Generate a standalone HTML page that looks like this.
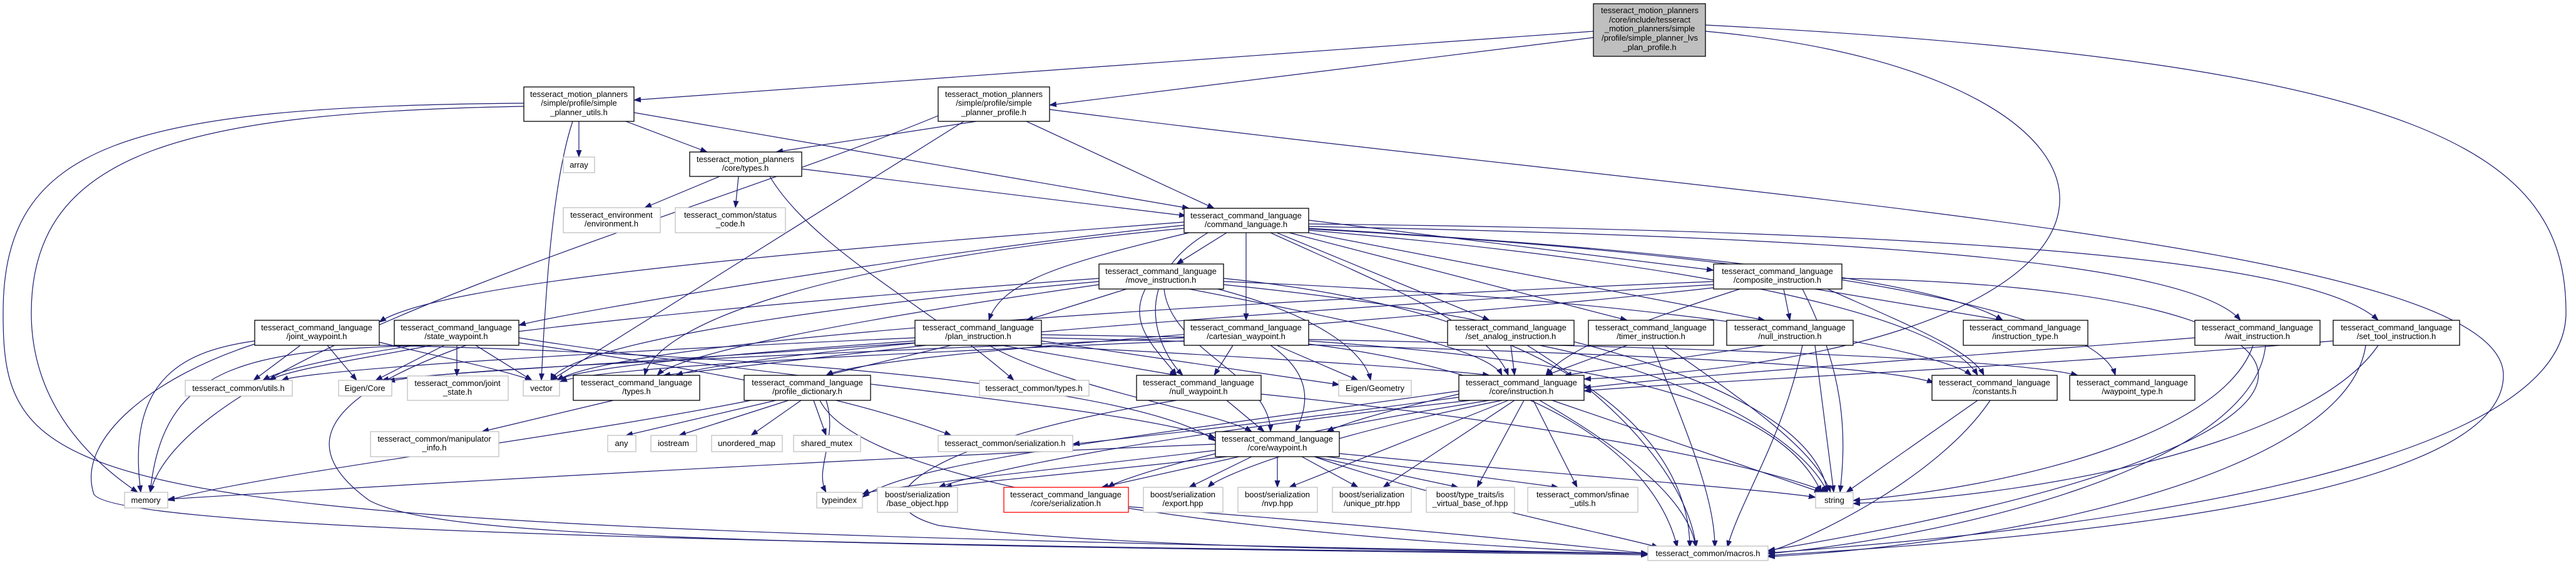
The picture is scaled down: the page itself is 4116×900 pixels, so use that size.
<!DOCTYPE html>
<html><head><meta charset="utf-8"><style>
html,body{margin:0;padding:0;background:#fff;}
svg{display:block}
text{font-family:"Liberation Sans",sans-serif;font-size:13px;fill:#000;text-anchor:middle}
.e path{fill:none;stroke:#191970;stroke-width:1.2;marker-end:url(#a)}
.n{fill:#fff;stroke:#000;stroke-width:1.3}
.g{fill:#fff;stroke:#bfbfbf;stroke-width:1.3}
.r{fill:#fff;stroke:#ff0000;stroke-width:1.3}
</style></head><body>
<svg width="4116" height="900" viewBox="0 0 4116 900" xmlns="http://www.w3.org/2000/svg">
<defs><marker id="a" markerUnits="userSpaceOnUse" markerWidth="12" markerHeight="9" refX="11" refY="4.5" orient="auto"><path d="M0,0 L12,4.5 L0,9 z" fill="#191970"/></marker></defs>
<g class="e">
<path d="M2546,50 L1013,160"/>
<path d="M2546,60 L1677,168"/>
<path d="M2725,50 C3500,120 3520,560 2531,606"/>
<path d="M2725,40 C3900,100 4100,250 4100,500 C4100,800 3000,870 2825,884"/>
<path d="M925,194 L925,251"/>
<path d="M1000,194 L1130,243"/>
<path d="M1013,180 L1900,333"/>
<path d="M915,194 C880,300 870,500 865,608"/>
<path d="M837,170 C300,180 50,240 50,500 C50,650 150,740 220,787"/>
<path d="M837,165 C200,170 5,230 5,500 C5,800 100,840 2633,885"/>
<path d="M1560,194 L1240,243"/>
<path d="M1640,194 L1940,333"/>
<path d="M1540,194 L880,608"/>
<path d="M1499,185 C1100,350 300,560 240,787"/>
<path d="M1677,175 C2800,320 4000,390 4000,600 C4000,820 3100,870 2825,888"/>
<path d="M1150,282 L1030,332"/>
<path d="M1180,282 L1175,332"/>
<path d="M1281,270 L1895,345"/>
<path d="M1230,282 C1300,400 1500,500 1620,608"/>
<path d="M1960,372 L1880,422"/>
<path d="M2091,352 L2738,432"/>
<path d="M1991,372 L1991,512"/>
<path d="M1892,355 C1300,400 700,450 606,515"/>
<path d="M1892,360 C1500,400 900,500 829,520"/>
<path d="M1900,372 C1700,420 1600,450 1580,512"/>
<path d="M1930,372 C1800,450 1850,560 1890,600"/>
<path d="M2030,372 C2200,450 2380,520 2410,600"/>
<path d="M2040,372 L2380,512"/>
<path d="M2060,372 L2600,512"/>
<path d="M2080,370 L2820,512"/>
<path d="M2091,365 C2700,400 3100,450 3200,512"/>
<path d="M2091,362 C3000,380 3500,420 3580,512"/>
<path d="M2091,358 C3200,370 3700,420 3800,512"/>
<path d="M2091,368 C2700,420 3100,500 3160,600"/>
<path d="M2091,366 C2900,410 3350,500 3380,600"/>
<path d="M1892,365 C1300,420 1050,520 1030,600"/>
<path d="M1800,462 L1640,512"/>
<path d="M1830,462 C1800,520 1850,560 1880,600"/>
<path d="M1860,462 C1870,560 2030,600 2030,690"/>
<path d="M1900,462 C2200,520 2380,560 2400,600"/>
<path d="M1930,458 C2100,500 2180,560 2190,608"/>
<path d="M1756,450 C1200,500 900,560 880,608"/>
<path d="M1756,455 C1300,520 1080,570 1050,600"/>
<path d="M1756,445 C1000,500 500,560 420,608"/>
<path d="M1955,455 C2600,520 2900,650 2920,787"/>
<path d="M1955,445 C2500,500 2700,700 2700,875"/>
<path d="M1955,450 C2700,480 3100,560 3150,600"/>
<path d="M2780,462 C2600,520 2500,560 2470,600"/>
<path d="M2900,462 L3200,512"/>
<path d="M2850,462 L2860,512"/>
<path d="M2920,462 C3050,520 3150,560 3170,600"/>
<path d="M2880,462 C2950,600 2950,700 2940,787"/>
<path d="M2943,445 C3800,460 3900,700 2825,880"/>
<path d="M2738,450 C2000,480 1000,540 890,608"/>
<path d="M2738,455 C2000,500 1200,560 1080,600"/>
<path d="M2738,460 C2200,520 1400,560 1320,600"/>
<path d="M480,552 L405,608"/>
<path d="M523,552 L570,608"/>
<path d="M606,547 C700,570 800,590 850,608"/>
<path d="M407,545 C300,560 200,600 225,787"/>
<path d="M606,552 C1000,560 1800,600 1942,705"/>
<path d="M407,550 C250,600 120,700 150,790 C180,840 1000,870 2633,885"/>
<path d="M690,552 C600,570 460,590 430,608"/>
<path d="M710,552 L600,608"/>
<path d="M730,552 L730,601"/>
<path d="M760,552 L850,608"/>
<path d="M829,540 C1200,600 1800,650 1942,700"/>
<path d="M680,552 C400,560 260,580 240,787"/>
<path d="M745,552 C500,640 480,720 590,800 C700,860 1200,870 2633,887"/>
<path d="M829,548 C1200,600 1400,650 1520,696"/>
<path d="M1520,552 L1320,600"/>
<path d="M1480,552 L1060,600"/>
<path d="M1600,552 L1880,600"/>
<path d="M1640,552 C2000,570 2300,590 2380,600"/>
<path d="M1580,552 C1700,620 1950,660 2000,690"/>
<path d="M1664,545 L2140,615"/>
<path d="M1462,545 C1100,570 920,590 890,608"/>
<path d="M1462,540 C1000,560 500,590 450,608"/>
<path d="M1462,548 C1000,580 650,600 610,608"/>
<path d="M1664,540 C2500,560 3000,580 3090,612"/>
<path d="M1664,535 C2600,550 3200,570 3320,600"/>
<path d="M1970,552 L1940,600"/>
<path d="M2030,552 C2100,600 2090,650 2070,690"/>
<path d="M2040,552 L2170,608"/>
<path d="M1892,540 C1200,570 700,590 620,610"/>
<path d="M1892,545 C1300,570 950,590 895,610"/>
<path d="M2091,545 C2600,580 2850,650 2910,787"/>
<path d="M2091,550 C2500,600 2650,750 2680,875"/>
<path d="M2414,552 L2420,600"/>
<path d="M2460,552 C2700,600 2880,700 2920,787"/>
<path d="M2440,552 C2600,650 2700,780 2710,875"/>
<path d="M2600,552 L2470,600"/>
<path d="M2660,552 C2800,650 2900,720 2925,787"/>
<path d="M2640,552 C2700,700 2740,800 2740,875"/>
<path d="M2820,552 L2500,600"/>
<path d="M2900,552 L2930,787"/>
<path d="M2880,552 C2850,700 2780,800 2760,875"/>
<path d="M3507,540 C3000,580 2700,600 2531,620"/>
<path d="M3600,552 C3550,700 3200,780 2961,800"/>
<path d="M3620,552 C3600,750 3100,860 2825,885"/>
<path d="M3728,545 C3200,590 2700,610 2531,625"/>
<path d="M3800,552 C3700,700 3300,790 2961,805"/>
<path d="M3780,552 C3750,760 3200,870 2825,890"/>
<path d="M980,640 L770,690"/>
<path d="M1240,640 L1000,696"/>
<path d="M1260,640 L1085,696"/>
<path d="M1280,640 L1200,696"/>
<path d="M1300,640 L1320,696"/>
<path d="M1320,640 C1340,700 1300,750 1320,787"/>
<path d="M1200,640 C900,700 400,760 268,800"/>
<path d="M1310,640 C1380,780 2000,860 2633,885"/>
<path d="M1960,640 L2020,690"/>
<path d="M1880,640 C1500,700 1350,800 1500,840 C1800,880 2400,880 2633,885"/>
<path d="M2015,630 C2500,680 2800,740 2920,787"/>
<path d="M2331,630 C2200,660 2140,680 2120,690"/>
<path d="M2331,625 C1800,700 1450,740 1378,795"/>
<path d="M2350,640 C1800,700 1550,760 1500,779"/>
<path d="M2380,640 C2000,700 1800,760 1770,779"/>
<path d="M2400,640 C2100,700 1950,760 1930,779"/>
<path d="M2410,640 L2060,779"/>
<path d="M2420,640 L2210,779"/>
<path d="M2435,640 L2360,779"/>
<path d="M2450,640 L2520,779"/>
<path d="M2480,640 L2910,787"/>
<path d="M2460,640 C2650,750 2700,820 2710,875"/>
<path d="M2331,635 C2000,680 1800,700 1714,710"/>
<path d="M1942,720 C1600,760 1400,780 1378,790"/>
<path d="M1960,730 C1700,760 1550,770 1510,779"/>
<path d="M1980,730 L1760,779"/>
<path d="M2000,730 L1900,779"/>
<path d="M2041,730 L2041,779"/>
<path d="M2080,730 L2170,779"/>
<path d="M2100,730 L2330,779"/>
<path d="M2120,730 L2490,779"/>
<path d="M2140,725 C2500,760 2800,780 2901,795"/>
<path d="M2100,730 C2300,800 2600,860 2650,875"/>
<path d="M1942,710 C1200,740 400,790 268,798"/>
<path d="M3160,640 L2950,787"/>
<path d="M3180,640 C3100,760 2900,860 2825,882"/>
<path d="M1803,810 C2200,840 2500,870 2633,885"/>
</g>
<!-- nodes -->
<rect x="2546" y="6" width="179" height="84" fill="#bfbfbf" stroke="#000" stroke-width="1.3"/>
<text x="2636" y="21">tesseract_motion_planners</text><text x="2636" y="36">/core/include/tesseract</text><text x="2636" y="50">_motion_planners/simple</text><text x="2636" y="65">/profile/simple_planner_lvs</text><text x="2636" y="80">_plan_profile.h</text>

<rect class="n" x="837" y="139" width="176" height="55"/><text x="925" y="155">tesseract_motion_planners</text><text x="925" y="169">/simple/profile/simple</text><text x="925" y="184">_planner_utils.h</text>
<rect class="n" x="1499" y="139" width="178" height="55"/><text x="1588" y="155">tesseract_motion_planners</text><text x="1588" y="169">/simple/profile/simple</text><text x="1588" y="184">_planner_profile.h</text>
<rect class="g" x="900" y="251" width="50" height="25"/><text x="925" y="268">array</text>
<rect class="n" x="1102" y="243" width="179" height="39"/><text x="1191" y="259">tesseract_motion_planners</text><text x="1191" y="273">/core/types.h</text>
<rect class="g" x="900" y="332" width="155" height="40"/><text x="977" y="348">tesseract_environment</text><text x="977" y="362">/environment.h</text>
<rect class="g" x="1079" y="332" width="176" height="40"/><text x="1167" y="348">tesseract_common/status</text><text x="1167" y="362">_code.h</text>
<rect class="n" x="1892" y="333" width="199" height="39"/><text x="1991" y="349">tesseract_command_language</text><text x="1991" y="363">/command_language.h</text>
<rect class="n" x="1756" y="422" width="199" height="40"/><text x="1855" y="438">tesseract_command_language</text><text x="1855" y="452">/move_instruction.h</text>
<rect class="n" x="2738" y="422" width="205" height="40"/><text x="2840" y="438">tesseract_command_language</text><text x="2840" y="452">/composite_instruction.h</text>

<rect class="n" x="407" y="512" width="199" height="40"/><text x="506" y="528">tesseract_command_language</text><text x="506" y="542">/joint_waypoint.h</text>
<rect class="n" x="630" y="512" width="199" height="40"/><text x="729" y="528">tesseract_command_language</text><text x="729" y="542">/state_waypoint.h</text>
<rect class="n" x="1462" y="512" width="202" height="40"/><text x="1563" y="528">tesseract_command_language</text><text x="1563" y="542">/plan_instruction.h</text>
<rect class="n" x="1892" y="512" width="199" height="40"/><text x="1991" y="528">tesseract_command_language</text><text x="1991" y="542">/cartesian_waypoint.h</text>
<rect class="n" x="2313" y="512" width="202" height="40"/><text x="2414" y="528">tesseract_command_language</text><text x="2414" y="542">/set_analog_instruction.h</text>
<rect class="n" x="2538" y="512" width="200" height="40"/><text x="2638" y="528">tesseract_command_language</text><text x="2638" y="542">/timer_instruction.h</text>
<rect class="n" x="2759" y="512" width="202" height="40"/><text x="2860" y="528">tesseract_command_language</text><text x="2860" y="542">/null_instruction.h</text>
<rect class="n" x="3137" y="512" width="199" height="40"/><text x="3236" y="528">tesseract_command_language</text><text x="3236" y="542">/instruction_type.h</text>
<rect class="n" x="3507" y="512" width="200" height="40"/><text x="3607" y="528">tesseract_command_language</text><text x="3607" y="542">/wait_instruction.h</text>
<rect class="n" x="3728" y="512" width="202" height="40"/><text x="3829" y="528">tesseract_command_language</text><text x="3829" y="542">/set_tool_instruction.h</text>

<rect class="g" x="296" y="608" width="171" height="25"/><text x="381" y="625">tesseract_common/utils.h</text>
<rect class="g" x="541" y="608" width="85" height="25"/><text x="583" y="625">Eigen/Core</text>
<rect class="g" x="651" y="601" width="161" height="39"/><text x="731" y="617">tesseract_common/joint</text><text x="731" y="631">_state.h</text>
<rect class="g" x="836" y="608" width="58" height="25"/><text x="865" y="625">vector</text>
<rect class="n" x="916" y="600" width="202" height="40"/><text x="1017" y="616">tesseract_command_language</text><text x="1017" y="630">/types.h</text>
<rect class="n" x="1189" y="600" width="202" height="40"/><text x="1290" y="616">tesseract_command_language</text><text x="1290" y="630">/profile_dictionary.h</text>
<rect class="g" x="1565" y="608" width="175" height="25"/><text x="1652" y="625">tesseract_common/types.h</text>
<rect class="n" x="1816" y="600" width="199" height="40"/><text x="1915" y="616">tesseract_command_language</text><text x="1915" y="630">/null_waypoint.h</text>
<rect class="g" x="2139" y="608" width="116" height="25"/><text x="2197" y="625">Eigen/Geometry</text>
<rect class="n" x="2331" y="600" width="200" height="40"/><text x="2431" y="616">tesseract_command_language</text><text x="2431" y="630">/core/instruction.h</text>
<rect class="n" x="3087" y="600" width="200" height="40"/><text x="3187" y="616">tesseract_command_language</text><text x="3187" y="630">/constants.h</text>
<rect class="n" x="3307" y="600" width="200" height="40"/><text x="3407" y="616">tesseract_command_language</text><text x="3407" y="630">/waypoint_type.h</text>

<rect class="g" x="592" y="690" width="205" height="40"/><text x="694" y="706">tesseract_common/manipulator</text><text x="694" y="720">_info.h</text>
<rect class="g" x="971" y="696" width="45" height="26"/><text x="993" y="713">any</text>
<rect class="g" x="1040" y="696" width="73" height="26"/><text x="1076" y="713">iostream</text>
<rect class="g" x="1137" y="696" width="113" height="26"/><text x="1193" y="713">unordered_map</text>
<rect class="g" x="1268" y="696" width="107" height="26"/><text x="1321" y="713">shared_mutex</text>
<rect class="g" x="1499" y="696" width="215" height="26"/><text x="1606" y="713">tesseract_common/serialization.h</text>
<rect class="n" x="1942" y="690" width="198" height="40"/><text x="2041" y="706">tesseract_command_language</text><text x="2041" y="720">/core/waypoint.h</text>

<rect class="g" x="199" y="787" width="69" height="25"/><text x="233" y="804">memory</text>
<rect class="g" x="1305" y="787" width="73" height="25"/><text x="1341" y="804">typeindex</text>
<rect class="g" x="1402" y="779" width="128" height="40"/><text x="1466" y="795">boost/serialization</text><text x="1466" y="809">/base_object.hpp</text>
<rect class="r" x="1604" y="779" width="199" height="40"/><text x="1703" y="795">tesseract_command_language</text><text x="1703" y="809">/core/serialization.h</text>
<rect class="g" x="1827" y="779" width="127" height="40"/><text x="1890" y="795">boost/serialization</text><text x="1890" y="809">/export.hpp</text>
<rect class="g" x="1978" y="779" width="127" height="40"/><text x="2041" y="795">boost/serialization</text><text x="2041" y="809">/nvp.hpp</text>
<rect class="g" x="2129" y="779" width="126" height="40"/><text x="2192" y="795">boost/serialization</text><text x="2192" y="809">/unique_ptr.hpp</text>
<rect class="g" x="2279" y="779" width="141" height="40"/><text x="2349" y="795">boost/type_traits/is</text><text x="2349" y="809">_virtual_base_of.hpp</text>
<rect class="g" x="2441" y="779" width="176" height="40"/><text x="2529" y="795">tesseract_common/sfinae</text><text x="2529" y="809">_utils.h</text>
<rect class="g" x="2901" y="787" width="60" height="25"/><text x="2931" y="804">string</text>
<rect class="g" x="2633" y="873" width="192" height="23"/><text x="2729" y="889">tesseract_common/macros.h</text>
</svg>
</body></html>
